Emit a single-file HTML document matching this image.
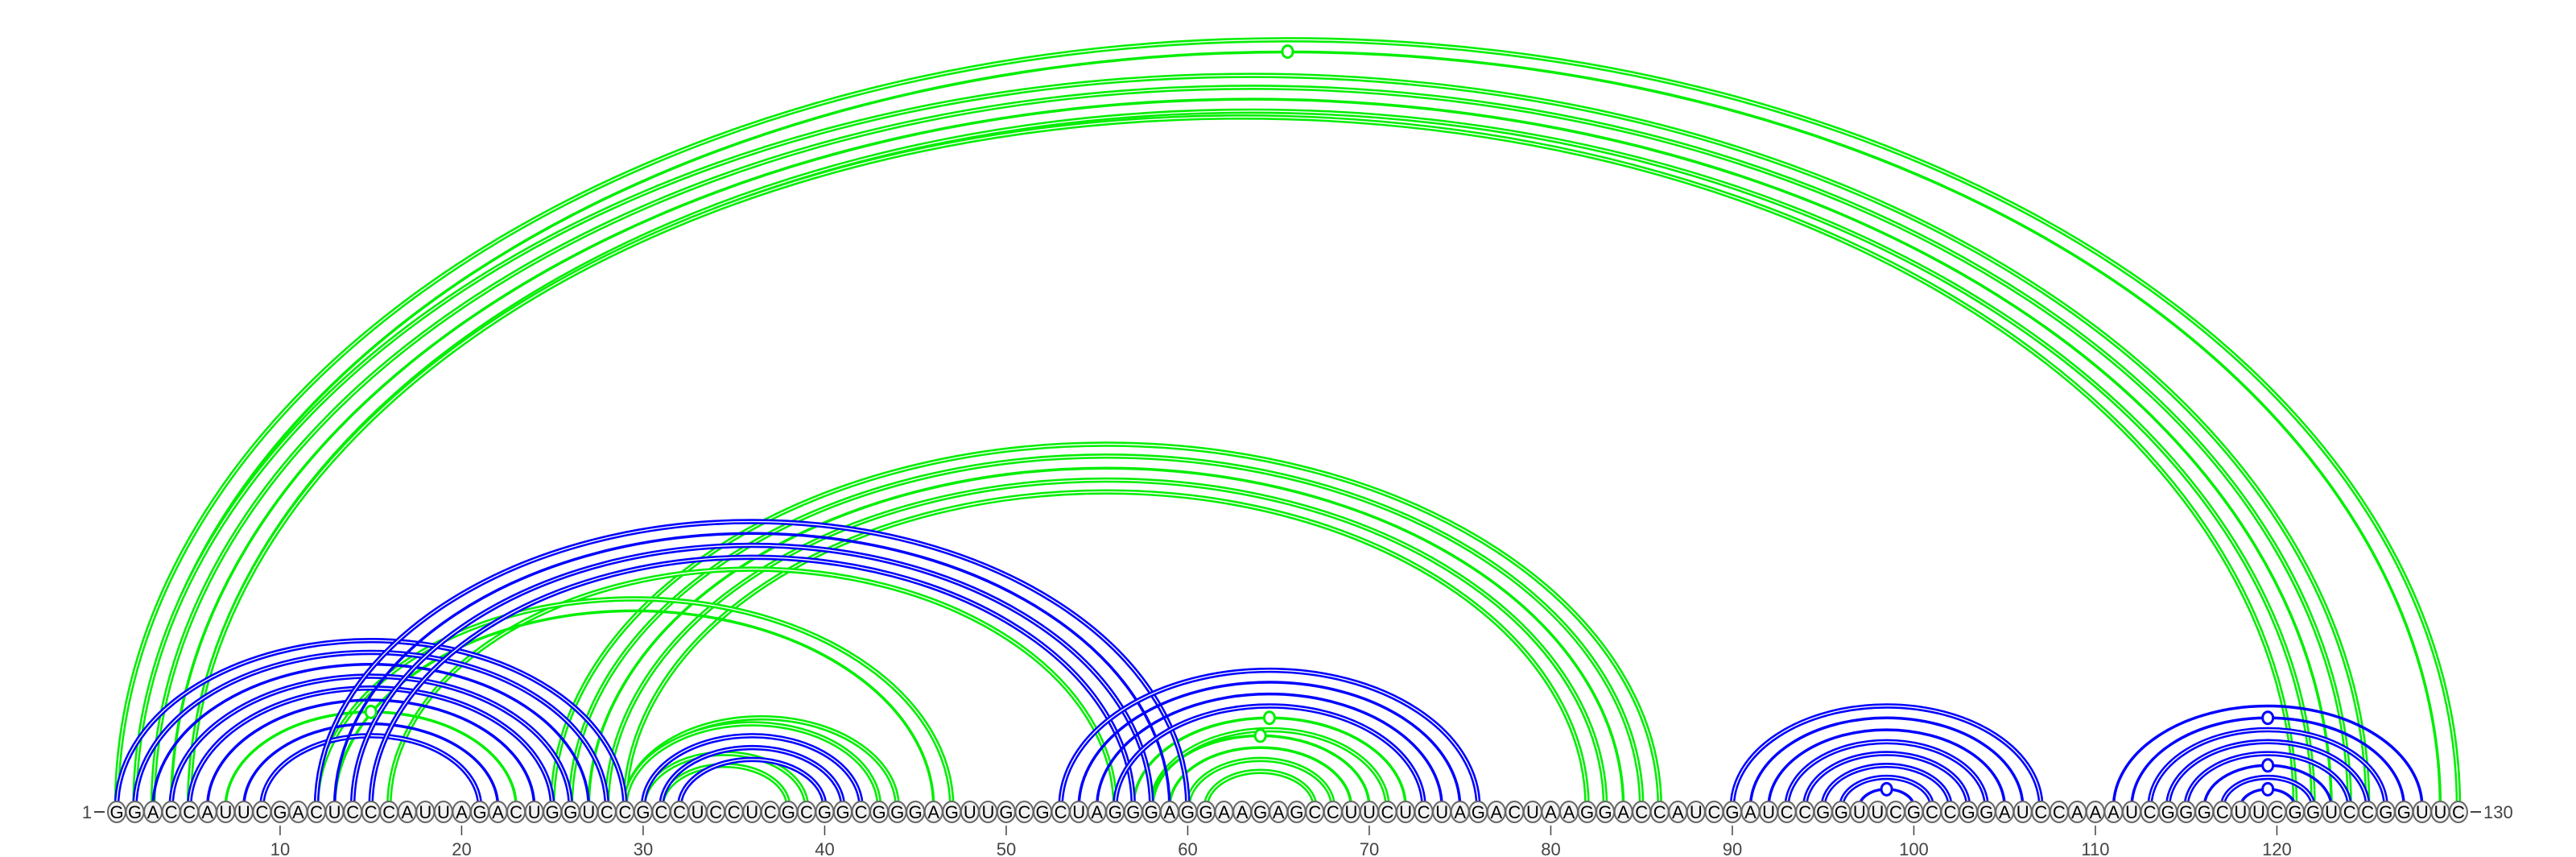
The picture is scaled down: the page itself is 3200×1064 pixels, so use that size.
<!DOCTYPE html>
<html><head><meta charset="utf-8"><style>
html,body{margin:0;padding:0;background:#fff;}
svg{display:block;}
text{font-family:"Liberation Sans","DejaVu Sans",sans-serif;}
</style></head><body>
<svg id="chart" width="3200" height="1064" viewBox="0 0 3200 1064">
<g id="arcs-green"></g>
<g id="arcs-blue"></g>
<g id="markers"></g>
<g id="bases"></g>
<g id="ticks"></g>
<text x="108" y="1016" font-size="22" fill="#444" text-anchor="middle">1</text>
<line x1="117" y1="1008" x2="130" y2="1008" stroke="#444" stroke-width="2"/>
<line x1="3069" y1="1008" x2="3082" y2="1008" stroke="#444" stroke-width="2"/>
<text x="3085" y="1016" font-size="22" fill="#444">130</text>
</svg>
<script>
const sequence = "GGACCAUUCGACUCCCAUUAGACUGGUCCGCCUCCUCGCGGCGGGAGUUGCGCUAGGGAGGAAGAGCCUUCUCUAGACUAAGGACCAUCGAUCCGGUUCGCCGGAUCCAAAUCGGGCUUCGGUCCGGUUC";
const tickPositions = [10,20,30,40,50,60,70,80,90,100,110,120];
// pairs: [i, j, style]  s=single, d=double, m=single with marker
const greenPairs = [
 [1,130,'d'],[2,129,'m'],[2,125,'d'],[3,124,'d'],[4,123,'s'],[5,122,'d'],[5,121,'d'],
 [25,86,'d'],[26,85,'d'],[27,84,'s'],[28,83,'d'],[29,82,'d'],
 [16,56,'d'],[12,47,'d'],[13,46,'s'],[7,23,'m'],
 [29,44,'d'],[29,43,'d'],[30,39,'d'],[31,38,'d'],
 [57,72,'m'],[58,71,'d'],[58,70,'m'],[59,69,'s'],[60,68,'d'],[61,67,'d']
];
const bluePairs = [
 [1,29,'d'],[2,28,'d'],[3,27,'s'],[4,26,'d'],[5,25,'d'],[6,24,'s'],[8,22,'s'],[9,21,'d'],
 [12,60,'d'],[13,59,'s'],[14,58,'d'],[15,57,'d'],
 [30,42,'d'],[31,41,'d'],[32,40,'d'],
 [53,76,'d'],[54,75,'s'],[55,74,'s'],[56,73,'d'],
 [90,107,'d'],[91,106,'s'],[92,105,'s'],[93,104,'d'],[94,103,'d'],[95,102,'d'],[96,101,'d'],[97,100,'m'],
 [111,128,'s'],[112,127,'m'],[113,126,'d'],[114,125,'d'],[115,124,'d'],[116,123,'m'],[117,122,'d'],[118,121,'m']
];

const NS="http://www.w3.org/2000/svg";
const X0=145, DX=22.55, BASEY=1008, ARCY=1002, RATIO=0.655;
function xPos(k){return X0+(k-1)*DX;}
function arcTop(i,j){return ARCY-RATIO*(xPos(j)-xPos(i))/2;}
function mk(tag,attrs){const e=document.createElementNS(NS,tag);for(const k in attrs)e.setAttribute(k,attrs[k]);return e;}

function drawArcs(pairs,color,gid){
  const g=document.getElementById(gid);
  const mg=document.getElementById('markers');
  pairs.forEach(p=>{
    const a=xPos(p[0]), b=xPos(p[1]), rx=(b-a)/2, ry=rx*RATIO;
    const d=`M ${a} ${ARCY} A ${rx} ${ry} 0 0 1 ${b} ${ARCY}`;
    if(p[2]==='d'){
      const o=mk('path',{d:d,fill:'none',stroke:color,'stroke-width':6.5});
      
      
      g.appendChild(o);
      const w=mk('path',{d:d,fill:'none',stroke:'#ffffff','stroke-width':1.4});
      
      
      g.appendChild(w);
    } else {
      const o=mk('path',{d:d,fill:'none',stroke:color,'stroke-width':3.5});
      
      
      g.appendChild(o);
    }
    if(p[2]==='m'){
      const c=mk('ellipse',{cx:(a+b)/2,cy:arcTop(p[0],p[1]),rx:6.5,ry:7.5,fill:'#fff',stroke:color,'stroke-width':3});
      
      
      mg.appendChild(c);
    }
  });
}
drawArcs(greenPairs,'#00ee00','arcs-green');
drawArcs(bluePairs,'#0000ff','arcs-blue');

const bg=document.getElementById('bases');
for(let k=1;k<=sequence.length;k++){
  const x=xPos(k);
  const e=mk('ellipse',{cx:x,cy:BASEY,rx:11,ry:13,fill:'#f2f2f2',stroke:'#666','stroke-width':2});
  
  
  bg.appendChild(e);
  const t=mk('text',{x:x,y:BASEY+8,'font-size':22,'text-anchor':'middle',fill:'#000'});
  t.textContent=sequence[k-1];
  
  
  bg.appendChild(t);
}
const tg=document.getElementById('ticks');
tickPositions.forEach(k=>{
  const x=xPos(k);
  const l=mk('line',{x1:x,y1:1025,x2:x,y2:1037,stroke:'#444','stroke-width':1.5});
  
  
  tg.appendChild(l);
  const t=mk('text',{x:x,y:1062,'font-size':22,'text-anchor':'middle',fill:'#444'});
  t.textContent=String(k);
  
  
  tg.appendChild(t);
});
</script>
</body></html>
